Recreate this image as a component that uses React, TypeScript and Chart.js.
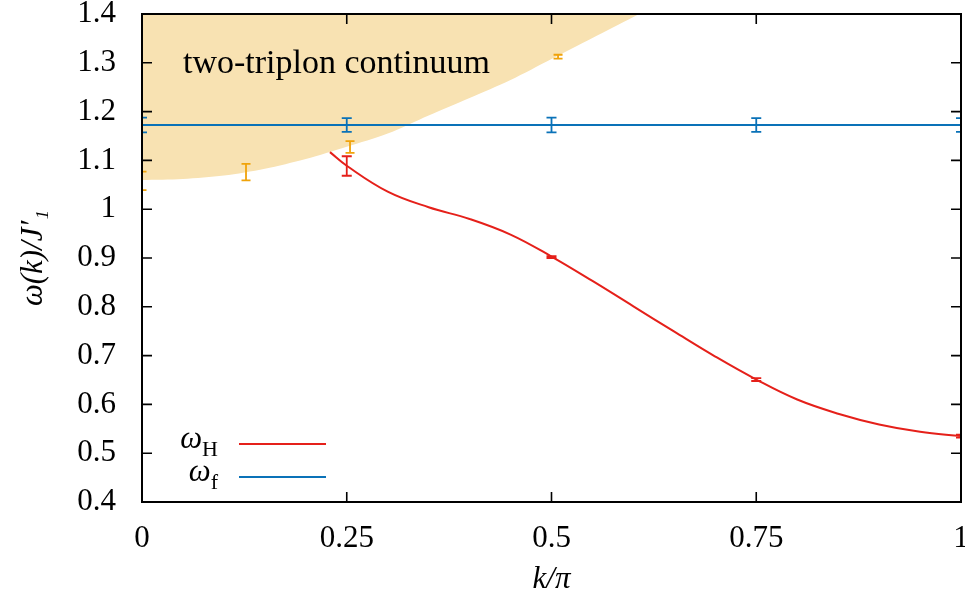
import { useEffect, useRef } from "react";
import { Chart, registerables } from "chart.js";

Chart.register(...registerables);

// ---- data ----
const xTicks = [0, 0.25, 0.5, 0.75, 1];
const yTicks = [0.4, 0.5, 0.6, 0.7, 0.8, 0.9, 1.0, 1.1, 1.2, 1.3, 1.4];

// lower edge of the two-triplon continuum
const contK = [0, 0.05, 0.1, 0.15, 0.2, 0.25, 0.3, 0.35, 0.4, 0.45, 0.5, 0.55, 0.6, 0.65];
const contLower = [1.06, 1.062, 1.069, 1.083, 1.103, 1.128, 1.155, 1.192, 1.228, 1.265, 1.308, 1.351, 1.394, 1.437];

// omega_H curve
const hK = [0.2295, 0.25, 0.3, 0.35, 0.4, 0.45, 0.5, 0.55, 0.6, 0.65, 0.7, 0.75, 0.8, 0.85, 0.9, 0.95, 1.0];
const hW = [1.117, 1.089, 1.036, 1.004, 0.98, 0.948, 0.903, 0.853, 0.801, 0.749, 0.698, 0.651, 0.61, 0.581, 0.559, 0.544, 0.535];

// omega_f line
const fK = [0, 1];
const fW = [1.1725, 1.1725];

// error-bar points
const hErrK = [0.25, 0.5, 0.75, 1.0];
const hErrW = [1.0885, 0.902, 0.651, 0.535];
const hErrD = [0.02, 0.002, 0.003, 0.003];

const fErrK = [0, 0.25, 0.5, 0.75, 1.0];
const fErrW = [1.1725, 1.1725, 1.1725, 1.1725, 1.1725];
const fErrD = [0.015, 0.014, 0.015, 0.014, 0.014];

const cErrK = [0, 0.127, 0.254, 0.508];
const cErrW = [1.058, 1.076, 1.1275, 1.3125];
const cErrD = [0.019, 0.017, 0.012, 0.004];

const RED = "#e5201a";
const BLUE = "#0a72b8";
const ORANGE = "#f0a30a";
const FILL = "#f8e2b2";
const SERIF = "'Liberation Serif', 'DejaVu Serif', serif";

const fmt = (v: number) => String(Number(v.toFixed(2)));

const overlayPlugin = {
  id: "overlay",
  afterDatasetsDraw(chart: any) {
    const { ctx, chartArea: a, scales } = chart;
    const x = scales.x;
    const y = scales.y;

    // error bars (clipped to plot area)
    ctx.save();
    ctx.beginPath();
    ctx.rect(a.left, a.top, a.right - a.left, a.bottom - a.top);
    ctx.clip();
    const bars = (ks: number[], ws: number[], ds: number[], color: string, cap: number) => {
      ctx.strokeStyle = color;
      ctx.lineWidth = 1.8;
      ks.forEach((k, i) => {
        const px = x.getPixelForValue(k);
        const y1 = y.getPixelForValue(ws[i] - ds[i]);
        const y2 = y.getPixelForValue(ws[i] + ds[i]);
        ctx.beginPath();
        ctx.moveTo(px, y1);
        ctx.lineTo(px, y2);
        ctx.moveTo(px - cap, y1);
        ctx.lineTo(px + cap, y1);
        ctx.moveTo(px - cap, y2);
        ctx.lineTo(px + cap, y2);
        ctx.stroke();
      });
    };
    bars(cErrK, cErrW, cErrD, ORANGE, 4.5);
    bars(fErrK, fErrW, fErrD, BLUE, 5);
    bars(hErrK, hErrW, hErrD, RED, 5);
    ctx.restore();

    // annotation
    ctx.save();
    ctx.fillStyle = "#000";
    ctx.font = `34px ${SERIF}`;
    ctx.textAlign = "left";
    ctx.textBaseline = "alphabetic";
    ctx.fillText("two-triplon continuum", x.getPixelForValue(0.05), y.getPixelForValue(1.279));
    ctx.restore();

    // frame + inward ticks
    ctx.save();
    ctx.strokeStyle = "#000";
    ctx.lineWidth = 2;
    ctx.strokeRect(a.left, a.top, a.right - a.left, a.bottom - a.top);
    ctx.lineWidth = 1.6;
    const tl = 10;
    ctx.beginPath();
    xTicks.forEach((k) => {
      const px = x.getPixelForValue(k);
      ctx.moveTo(px, a.bottom);
      ctx.lineTo(px, a.bottom - tl);
      ctx.moveTo(px, a.top);
      ctx.lineTo(px, a.top + tl);
    });
    yTicks.forEach((w) => {
      const py = y.getPixelForValue(w);
      ctx.moveTo(a.left, py);
      ctx.lineTo(a.left + tl, py);
      ctx.moveTo(a.right, py);
      ctx.lineTo(a.right - tl, py);
    });
    ctx.stroke();
    ctx.restore();

    // legend
    ctx.save();
    const entries = [
      { sym: "ω", sub: "H", color: RED, y: 444 - a.top },
      { sym: "ω", sub: "f", color: BLUE, y: 477 - a.top },
    ];
    entries.forEach((e) => {
      const ly = a.top + e.y;
      ctx.font = `italic 31px ${SERIF}`;
      const w1 = ctx.measureText(e.sym).width;
      ctx.font = `22px ${SERIF}`;
      const w2 = ctx.measureText(e.sub).width;
      const right = a.left + 76;
      ctx.fillStyle = "#000";
      ctx.textBaseline = "alphabetic";
      ctx.textAlign = "left";
      ctx.font = `italic 31px ${SERIF}`;
      ctx.fillText(e.sym, right - w1 - w2, ly + 4);
      ctx.font = `22px ${SERIF}`;
      ctx.fillText(e.sub, right - w2, ly + 12);
      ctx.strokeStyle = e.color;
      ctx.lineWidth = 2;
      ctx.beginPath();
      ctx.moveTo(a.left + 97, ly);
      ctx.lineTo(a.left + 184, ly);
      ctx.stroke();
    });
    ctx.restore();
  },
};

export default function App() {
  const ref = useRef<HTMLCanvasElement | null>(null);

  useEffect(() => {
    document.body.style.margin = "0";
    if (!ref.current) return;
    const chart = new Chart(ref.current, {
      type: "line",
      data: {
        datasets: [
          {
            label: "two-triplon continuum",
            data: contK.map((k, i) => ({ x: k, y: contLower[i] })),
            fill: "end",
            backgroundColor: FILL,
            borderWidth: 0,
            borderColor: "rgba(0,0,0,0)",
            pointRadius: 0,
            tension: 0.3,
            order: 10,
          },
          {
            label: "ωf",
            data: fK.map((k, i) => ({ x: k, y: fW[i] })),
            borderColor: BLUE,
            borderWidth: 2,
            pointRadius: 0,
            fill: false,
            order: 2,
          },
          {
            label: "ωH",
            data: hK.map((k, i) => ({ x: k, y: hW[i] })),
            borderColor: RED,
            borderWidth: 2,
            pointRadius: 0,
            fill: false,
            tension: 0.4,
            order: 1,
          },
        ],
      },
      options: {
        animation: false,
        responsive: false,
        layout: { padding: { top: 14, right: 4, left: 0, bottom: 0 } },
        plugins: { legend: { display: false }, tooltip: { enabled: false } },
        scales: {
          x: {
            type: "linear",
            min: 0,
            max: 1,
            grid: { display: false },
            border: { display: false },
            afterBuildTicks: (s: any) => {
              s.ticks = xTicks.map((v) => ({ value: v }));
            },
            afterFit: (s: any) => {
              s.height = 104;
              s.paddingLeft = 0;
              s.paddingRight = 0;
            },
            ticks: {
              color: "#000",
              padding: 10,
              maxRotation: 0,
              font: { family: SERIF, size: 31 },
              callback: (v: any) => fmt(Number(v)),
            },
            title: {
              display: true,
              text: "k/π",
              color: "#000",
              font: { family: SERIF, size: 31, style: "italic" },
              padding: { top: 0, bottom: 8 },
            },
          },
          y: {
            type: "linear",
            min: 0.4,
            max: 1.4,
            grid: { display: false },
            border: { display: false },
            afterBuildTicks: (s: any) => {
              s.ticks = yTicks.map((v) => ({ value: v }));
            },
            afterFit: (s: any) => {
              s.width = 142;
              s.paddingTop = 0;
              s.paddingBottom = 0;
            },
            ticks: {
              color: "#000",
              padding: 18,
              font: { family: SERIF, size: 31 },
              callback: (v: any) => fmt(Number(v)),
            },
            title: {
              display: true,
              text: "ω(k)/J′₁",
              color: "#000",
              font: { family: SERIF, size: 31, style: "italic" },
              padding: { top: 15, bottom: 0 },
            },
          },
        },
      },
      plugins: [overlayPlugin],
    } as any);
    return () => chart.destroy();
  }, []);

  return (
    <div style={{ width: 965, height: 606 }}>
      <canvas ref={ref} width={965} height={606} style={{ display: "block" }} />
    </div>
  );
}
